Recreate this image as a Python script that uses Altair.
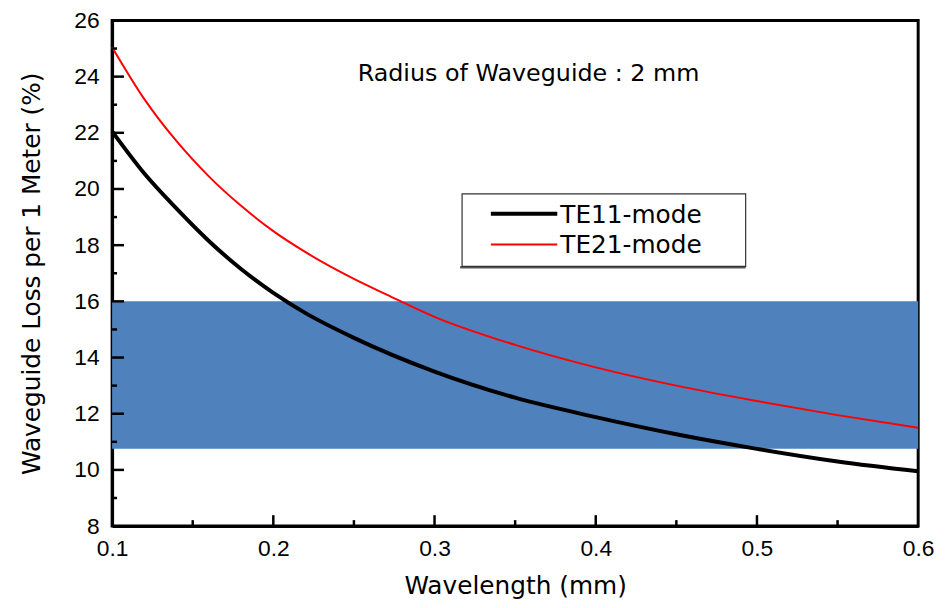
import altair as alt
import pandas as pd

# ---- data ----
wl_te11 = [0.10, 0.12, 0.14, 0.16, 0.18, 0.20, 0.22, 0.25, 0.30, 0.35, 0.40, 0.45, 0.50, 0.55, 0.60]
loss_te11 = [22.05, 20.55, 19.30, 18.15, 17.15, 16.30, 15.58, 14.70, 13.50, 12.57, 11.88, 11.27, 10.75, 10.30, 9.95]

wl_te21 = [0.10, 0.12, 0.14, 0.16, 0.18, 0.20, 0.22, 0.25, 0.27, 0.30, 0.35, 0.40, 0.45, 0.50, 0.55, 0.60]
loss_te21 = [25.05, 23.20, 21.70, 20.45, 19.40, 18.50, 17.75, 16.80, 16.25, 15.45, 14.45, 13.65, 13.00, 12.45, 11.95, 11.50]

band_x = [0.1, 0.6]
band_y = [10.75, 16.0]

x_ticks = [0.1, 0.2, 0.3, 0.4, 0.5, 0.6]
x_minor = [0.15, 0.25, 0.35, 0.45, 0.55]
x_major_inner = [0.2, 0.3, 0.4, 0.5]
y_ticks = [8, 10, 12, 14, 16, 18, 20, 22, 24, 26]
y_major_inner = [10, 12, 14, 16, 18, 20, 22, 24]
y_minor = [9, 11, 13, 15, 17, 19, 21, 23, 25]

series_names = ["TE11-mode", "TE21-mode"]
series_colors = ["#000000", "#ff0000"]
annotation = ["Radius of Waveguide : 2 mm"]

x_title = "Wavelength (mm)"
y_title = "Waveguide Loss per 1 Meter (%)"

# ---- chart ----
W, H = 813, 510
xs = alt.Scale(domain=[x_ticks[0], x_ticks[-1]], nice=False, zero=False)
ys = alt.Scale(domain=[y_ticks[0], y_ticks[-1]], nice=False, zero=False)

common_axis = dict(
    ticks=False, grid=False, domainColor="black", domainWidth=3,
    labelFont="Liberation Sans", labelFontSize=23, labelColor="black",
    labelFlush=False, labelOverlap=False,
    titleFont="DejaVu Sans", titleFontSize=25, titleFontWeight="normal",
    titleColor="black",
)

band_df = pd.DataFrame({"x0": [band_x[0]], "x1": [band_x[1]],
                        "lo": [band_y[0]], "hi": [band_y[1]]})
band = alt.Chart(band_df).mark_rect(color="#4F81BD").encode(
    x=alt.X("x0:Q", scale=xs, axis=alt.Axis(title=x_title, values=x_ticks, format=".1f",
                                             labelPadding=12, titlePadding=13, **common_axis)),
    x2="x1:Q",
    y=alt.Y("lo:Q", scale=ys, axis=alt.Axis(title=y_title, values=y_ticks, format="d",
                                             labelPadding=13, titlePadding=30, **common_axis)),
    y2="hi:Q",
)

df11 = pd.DataFrame({"wl": wl_te11, "loss": loss_te11})
df21 = pd.DataFrame({"wl": wl_te21, "loss": loss_te21})

line11 = alt.Chart(df11).mark_line(color=series_colors[0], strokeWidth=4, interpolate="monotone").encode(
    x=alt.X("wl:Q", scale=xs), y=alt.Y("loss:Q", scale=ys))
line21 = alt.Chart(df21).mark_line(color=series_colors[1], strokeWidth=2, interpolate="monotone").encode(
    x=alt.X("wl:Q", scale=xs), y=alt.Y("loss:Q", scale=ys))

# inward tick marks
ymaj = alt.Chart(pd.DataFrame({"v": y_major_inner})).mark_rule(color="black", strokeWidth=2.5).encode(
    y=alt.Y("v:Q", scale=ys), x=alt.value(0), x2=alt.value(12))
ymin = alt.Chart(pd.DataFrame({"v": y_minor})).mark_rule(color="black", strokeWidth=2.5).encode(
    y=alt.Y("v:Q", scale=ys), x=alt.value(0), x2=alt.value(5))
xmaj = alt.Chart(pd.DataFrame({"v": x_major_inner})).mark_rule(color="black", strokeWidth=2.5).encode(
    x=alt.X("v:Q", scale=xs), y=alt.value(H), y2=alt.value(H - 11))
xmin = alt.Chart(pd.DataFrame({"v": x_minor})).mark_rule(color="black", strokeWidth=2.5).encode(
    x=alt.X("v:Q", scale=xs), y=alt.value(H), y2=alt.value(H - 6))

# annotation
note = alt.Chart(pd.DataFrame({"t": annotation})).mark_text(
    font="DejaVu Sans", fontSize=24, color="black", align="center", baseline="middle").encode(
    text="t:N", x=alt.value(420), y=alt.value(54))

# legend box
leg_shadow = alt.Chart(pd.DataFrame({"a": [0]})).mark_rule(color="#555555", strokeWidth=2.5).encode(
    x=alt.value(351), x2=alt.value(639), y=alt.value(249))
leg_box = alt.Chart(pd.DataFrame({"a": [0]})).mark_rect(fill="white", stroke="#333333", strokeWidth=1.2).encode(
    x=alt.value(353), x2=alt.value(639), y=alt.value(175), y2=alt.value(248))
leg_l1 = alt.Chart(pd.DataFrame({"a": [0]})).mark_rule(color=series_colors[0], strokeWidth=4).encode(
    x=alt.value(382), x2=alt.value(449), y=alt.value(195))
leg_l2 = alt.Chart(pd.DataFrame({"a": [0]})).mark_rule(color=series_colors[1], strokeWidth=2).encode(
    x=alt.value(382), x2=alt.value(449), y=alt.value(226))
leg_t1 = alt.Chart(pd.DataFrame({"t": [series_names[0]]})).mark_text(
    font="DejaVu Sans", fontSize=25, color="black", align="left", baseline="middle").encode(
    text="t:N", x=alt.value(452), y=alt.value(196))
leg_t2 = alt.Chart(pd.DataFrame({"t": [series_names[1]]})).mark_text(
    font="DejaVu Sans", fontSize=25, color="black", align="left", baseline="middle").encode(
    text="t:N", x=alt.value(452), y=alt.value(227))

chart = alt.layer(
    band, line11, line21, ymaj, ymin, xmaj, xmin, note,
    leg_shadow, leg_box, leg_l1, leg_l2, leg_t1, leg_t2,
).properties(
    width=W, height=H,
    autosize=alt.AutoSizeParams(type="none"),
    padding={"left": 105, "top": 10, "right": 20, "bottom": 72},
    background="white",
).configure_view(stroke="black", strokeWidth=3)

chart.save("out.html", embed_options={"renderer": "svg", "actions": False})
